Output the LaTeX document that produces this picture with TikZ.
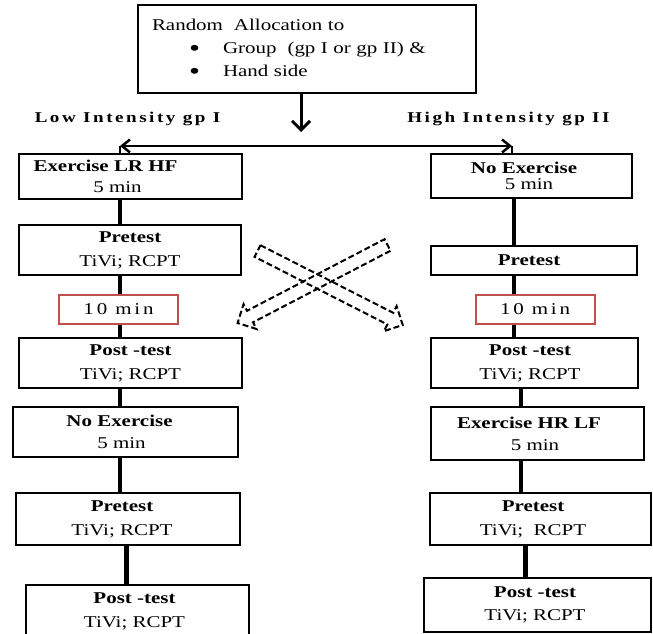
\documentclass[tikz,border=0pt]{standalone}
\usepackage{fontspec}
\setmainfont{Liberation Serif}[FakeStretch=1.27]
\newfontfamily\spacedfont{Liberation Serif}[FakeStretch=1.27, LetterSpace=17]
\usetikzlibrary{arrows.meta}
\definecolor{pauseRed}{RGB}{192,80,77}

\tikzset{
  stage/.style={draw, line width=2.5pt, align=center, inner sep=0pt, font=\fontsize{16.5}{24}\selectfont},
  pause/.style={draw=pauseRed, line width=2pt, inner sep=0pt, minimum width=119, minimum height=29, font=\fontsize{16.5}{18}\spacedfont},
  link/.style={line width=4pt},
  group label/.style={font=\fontsize{15}{16}\spacedfont\bfseries},
  cross/.style={line width=2pt, dash pattern=on 6pt off 3pt, line join=miter}
}
\newcommand\itemdot{\raisebox{-2.6pt}{\scalebox{1.5}{\textbullet}}}

\begin{document}
\begin{tikzpicture}[x=1pt, y=-1pt]
    \path[use as bounding box, clip] (0,0) rectangle (653,634);
    % allocation box
    \node[stage, align=left, text width=310, inner sep=14pt, minimum height=78, font=\fontsize{16.5}{23}\selectfont] (alloc) at (307,49)
        {Random~~Allocation to\\ \hspace*{37pt}\itemdot\hspace*{23pt}Group~~(gp I or gp II) \&\\ \hspace*{37pt}\itemdot\hspace*{23pt}Hand side};
    \node[group label] (lowlab) at (127.5,119) {Low Intensity gp I};
    \node[group label] (highlab) at (508.5,119) {High Intensity gp II};

    % gp I column
    \node[stage, minimum width=223, minimum height=45] (exLR) at (130.5,176.5) {\textbf{Exercise LR HF}\rule{50pt}{0pt}\\[-3pt]5 min\rule{26pt}{0pt}};
    \node[stage, minimum width=222, minimum height=50] (preL1) at (130,250) {\textbf{Pretest}\\TiVi; RCPT};
    \node[pause] (gapL) at (118.5,309.5) {10 min};
    \node[stage, minimum width=223, minimum height=50] (postL1) at (130.5,363) {\textbf{Post -test}\\TiVi; RCPT};
    \node[stage, minimum width=225, minimum height=50] (noexL) at (125.5,432) {\textbf{No Exercise}\rule{12pt}{0pt}\\[-2pt]5 min\rule{8pt}{0pt}};
    \node[stage, minimum width=224, minimum height=52] (preL2) at (128,519) {\textbf{Pretest}\rule{12pt}{0pt}\\TiVi; RCPT\rule{12pt}{0pt}};
    \node[stage, minimum width=223, minimum height=52] (postL2) at (137.5,611) {\textbf{Post -test}\rule{6pt}{0pt}\\TiVi; RCPT\rule{6pt}{0pt}};

    % gp II column
    \node[stage, minimum width=201, minimum height=44] (noexR) at (531.5,176) {\textbf{No Exercise}\rule{15pt}{0pt}\\[-8pt]5 min\rule{5pt}{0pt}};
    \node[stage, minimum width=206, minimum height=29] (preR1) at (534,260.5) {\textbf{Pretest}\rule{10pt}{0pt}};
    \node[pause] (gapR) at (535,309.5) {10 min};
    \node[stage, minimum width=207, minimum height=50] (postR1) at (534.5,363) {\textbf{Post -test}\rule{9pt}{0pt}\\TiVi; RCPT\rule{9pt}{0pt}};
    \node[stage, minimum width=213, minimum height=53] (exHR) at (537.5,433.5) {\textbf{Exercise HR LF}\rule{17pt}{0pt}\\[-2pt]5 min\rule{5pt}{0pt}};
    \node[stage, minimum width=221, minimum height=52] (preR2) at (540.5,519) {\textbf{Pretest}\rule{15pt}{0pt}\\TiVi;~~RCPT\rule{15pt}{0pt}};
    \node[stage, minimum width=227, minimum height=54] (postR2) at (537.5,605) {\textbf{Post -test}\rule{5pt}{0pt}\\[-1pt]TiVi; RCPT\rule{5pt}{0pt}};

    % split after allocation
    \coordinate (split) at (301,132);
    \coordinate (hl) at (120,146);
    \coordinate (hr) at (512,146);
    \draw[line width=3pt, -{Straight Barb[length=9pt,width=18pt]}] (alloc.south -| split) -- (split);
    \draw[line width=2.5pt, {Straight Barb[length=8pt,width=13pt]}-{Straight Barb[length=8pt,width=13pt]}] (hl) -- (hr);
    \draw[line width=2.5pt] (hl) -- (exLR.north -| hl);
    \draw[line width=2.5pt] (hr) -- (noexR.north -| hr);

    % column links
    \coordinate (lx) at (120,0);
    \coordinate (lx2) at (126,0);
    \coordinate (rx) at (514,0);
    \coordinate (rx2) at (521,0);
    \coordinate (rx3) at (525,0);
    \foreach \a/\b in {exLR/preL1, preL1/gapL, gapL/postL1, postL1/noexL, noexL/preL2}
        \draw[link] (\a.south -| lx) -- (\b.north -| lx);
    \draw[link, line width=5pt] (preL2.south -| lx2) -- (postL2.north -| lx2);
    \foreach \a/\b in {noexR/preR1, preR1/gapR, gapR/postR1}
        \draw[link] (\a.south -| rx) -- (\b.north -| rx);
    \foreach \a/\b in {postR1/exHR, exHR/preR2}
        \draw[link] (\a.south -| rx2) -- (\b.north -| rx2);
    \draw[link, line width=5pt] (preR2.south -| rx3) -- (postR2.north -| rx3);

    % crossover arrows
    \foreach \x/\y/\a/\l in {257.5/251/-27/163, 387.5/245/207.5/169}
        \draw[cross, shift={(\x,\y)}, rotate=\a] (0,-6.5) -- (\l-14,-6.5) -- (\l-14,-14) -- (\l,0) -- (\l-14,14) -- (\l-14,6.5) -- (0,6.5) -- cycle;
\end{tikzpicture}
\end{document}
